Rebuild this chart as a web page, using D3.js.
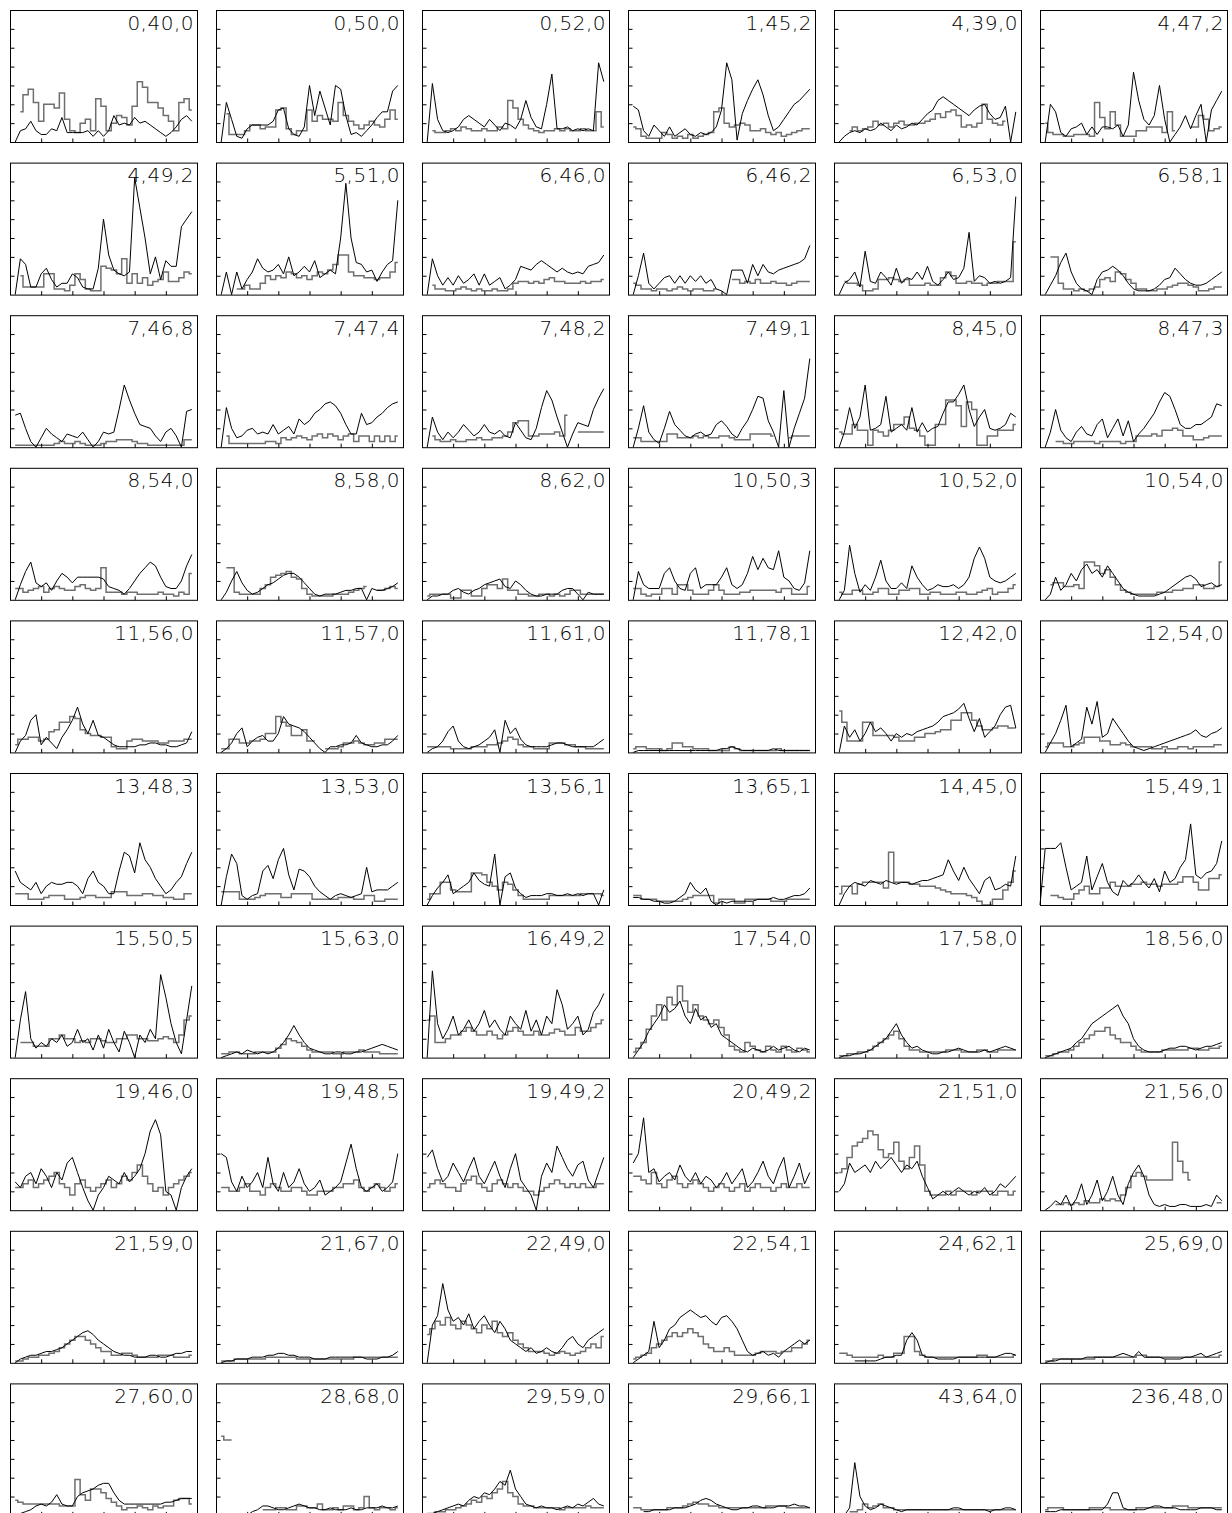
<!DOCTYPE html>
<html>
<head>
<meta charset="utf-8">
<script src="https://cdn.jsdelivr.net/npm/d3@7"></script>
<style>
body { margin: 0; background: #fff; }
</style>
</head>
<body>
<svg id="svg1" width="1232" height="1513"></svg>
<script>
// panel titles, row by row
var labels = [
    "0,40,0", "0,50,0", "0,52,0", "1,45,2", "4,39,0", "4,47,2",
    "4,49,2", "5,51,0", "6,46,0", "6,46,2", "6,53,0", "6,58,1",
    "7,46,8", "7,47,4", "7,48,2", "7,49,1", "8,45,0", "8,47,3",
    "8,54,0", "8,58,0", "8,62,0", "10,50,3", "10,52,0", "10,54,0",
    "11,56,0", "11,57,0", "11,61,0", "11,78,1", "12,42,0", "12,54,0",
    "13,48,3", "13,53,0", "13,56,1", "13,65,1", "14,45,0", "15,49,1",
    "15,50,5", "15,63,0", "16,49,2", "17,54,0", "17,58,0", "18,56,0",
    "19,46,0", "19,48,5", "19,49,2", "20,49,2", "21,51,0", "21,56,0",
    "21,59,0", "21,67,0", "22,49,0", "22,54,1", "24,62,1", "25,69,0",
    "27,60,0", "28,68,0", "29,59,0", "29,66,1", "43,64,0", "236,48,0"
];

var yTicks = [10, 20, 30, 40, 50, 60];
var xTicks = [6, 12, 18, 24, 30];

// black line series (one row of values per panel)
var lineVals = [
    [null,0,6,7,11,6,4,4,7,6,13,5,5,5,5,6,3,6,3,6,14,9,10,9,13,10,11,9,7,5,3,5,8,12,14,11],
    [null,0,21,12,3,2,7,9,9,9,9,11,17,18,7,4,3,8,30,14,27,18,9,30,28,14,4,5,3,6,9,13,16,16,27,30],
    [null,0,31,12,6,5,6,8,12,14,12,10,8,12,9,6,10,9,7,12,22,13,8,7,20,36,7,7,8,6,7,6,7,6,42,32],
    [null,19,17,6,3,9,6,3,8,3,5,7,4,3,5,4,5,8,17,42,33,1,15,22,28,33,25,14,6,8,12,16,20,22,25,28],
    [null,0,3,5,6,5,7,6,7,10,8,6,9,7,8,10,9,12,15,17,22,24,22,20,18,16,14,17,19,20,15,12,13,19,0,16],
    [null,0,20,16,5,3,7,8,10,4,8,4,8,8,7,9,3,9,37,22,12,9,14,30,12,0,4,8,14,7,14,20,0,17,22,27],
    [null,0,19,16,4,4,11,14,8,4,6,6,11,9,4,3,3,14,40,21,13,11,10,12,62,46,30,11,20,8,18,15,15,36,40,44],
    [null,0,12,0,12,3,8,12,19,14,12,13,16,11,20,10,12,15,12,18,9,11,13,11,30,59,30,17,16,12,13,7,12,16,18,50],
    [null,0,19,10,5,9,5,10,6,8,11,5,11,5,7,9,3,5,8,15,14,13,16,18,16,14,12,14,12,11,12,11,15,16,17,21],
    [null,0,10,22,6,3,6,9,10,6,10,6,10,7,10,6,8,3,2,0,13,13,13,6,16,10,16,12,11,13,14,15,16,17,19,26],
    [null,0,6,8,12,4,23,7,6,12,9,5,14,6,9,8,12,8,15,7,5,8,12,8,9,14,33,7,10,9,6,7,6,7,9,52],
    [null,0,5,10,17,22,12,6,3,2,0,8,12,13,15,13,10,6,3,2,2,2,3,5,8,9,14,11,8,6,5,5,6,8,10,12],
    [null,17,18,10,3,0,5,10,7,5,3,7,6,5,8,4,0,3,8,7,8,20,33,25,18,12,11,10,6,3,8,10,6,0,19,20],
    [null,0,21,10,5,6,9,10,7,8,7,12,7,9,11,7,15,12,14,18,20,23,24,22,18,12,7,7,18,12,13,16,18,21,23,24],
    [null,0,16,8,4,8,5,8,12,9,6,8,12,8,7,9,6,5,13,9,5,4,10,21,30,25,16,8,0,7,13,12,11,20,26,31],
    [null,0,10,22,8,4,2,10,19,12,9,6,5,7,8,6,7,12,14,11,7,5,10,14,20,27,26,14,8,0,30,0,10,18,26,47],
    [null,0,8,21,10,16,33,9,10,12,27,8,10,12,9,21,8,13,8,10,11,18,24,24,28,33,20,11,16,20,10,9,10,12,18,16],
    [null,0,8,20,9,5,3,8,11,7,6,12,15,5,10,15,6,14,3,7,10,14,18,24,29,27,20,12,10,10,12,12,14,16,23,22],
    [null,0,8,15,20,9,7,9,5,10,14,12,9,12,12,12,12,12,11,7,6,5,3,6,10,14,17,20,18,12,7,6,6,10,18,24],
    [null,0,4,10,15,9,5,3,4,6,8,9,11,13,14,14,12,9,6,3,2,3,3,3,4,5,5,6,6,0,6,5,5,6,7,9],
    [null,0,2,2,3,3,5,6,4,3,5,6,8,9,10,11,7,6,10,8,5,3,2,2,3,3,3,5,6,6,3,0,4,3,3,3],
    [null,0,15,8,6,6,6,14,17,10,6,5,14,17,6,8,8,8,12,17,8,6,8,14,23,16,22,17,16,26,12,10,6,5,9,26],
    [null,0,5,29,14,4,8,5,12,21,10,6,6,9,6,18,12,8,5,6,8,7,7,8,6,8,12,22,28,22,12,10,9,10,12,14],
    [null,0,3,12,5,8,14,10,16,19,14,16,12,18,14,10,6,4,3,2,2,2,2,3,4,6,8,10,12,13,11,7,8,9,7,8],
    [null,0,6,9,17,20,4,8,5,2,8,12,17,24,15,10,17,9,8,6,4,3,3,3,3,4,4,5,5,4,4,3,3,4,5,11],
    [null,0,2,5,10,13,3,6,8,9,6,6,10,19,15,14,13,11,8,5,2,0,3,3,4,4,5,9,5,4,3,3,4,4,6,9],
    [null,0,2,3,6,11,14,6,3,2,3,4,6,8,12,0,17,10,13,7,4,3,3,3,3,4,5,5,4,3,3,3,3,3,5,7],
    [null,0,1,1,1,1,1,1,1,1,1,1,1,1,1,1,1,1,2,2,3,2,1,1,1,1,1,1,2,1,1,1,1,1,1,1],
    [null,0,14,8,12,6,10,16,11,13,10,6,10,8,10,9,11,12,13,14,16,19,20,21,23,26,18,11,18,8,11,14,20,24,25,13],
    [null,0,5,10,17,25,3,5,7,24,15,27,8,10,18,14,10,6,3,2,1,2,3,4,5,6,7,8,9,10,12,9,8,10,11,13],
    [null,18,12,10,8,12,6,10,12,11,11,12,12,10,6,14,18,12,10,6,6,18,28,26,17,33,24,20,14,10,6,8,12,15,22,28],
    [null,0,15,27,22,5,3,5,6,18,21,14,24,30,16,8,19,18,15,10,7,5,3,5,6,5,4,5,6,20,7,8,8,8,10,12],
    [null,0,5,9,12,16,6,8,10,12,17,13,11,10,27,0,15,17,9,6,4,5,5,5,6,6,5,5,6,5,6,5,6,6,0,8],
    [null,4,4,3,3,2,2,1,1,2,4,6,12,8,6,9,2,0,2,1,2,2,2,2,2,3,3,3,4,3,3,4,5,5,6,9],
    [null,0,6,10,12,11,10,13,12,11,13,12,11,12,12,11,12,13,13,14,15,16,24,18,13,20,14,10,6,13,15,8,9,11,10,26],
    [0,30,30,30,33,20,8,10,12,26,8,15,22,12,7,5,13,10,12,16,12,9,14,7,18,12,14,20,24,43,16,14,17,18,22,34],
    [null,0,20,35,10,5,8,6,10,8,12,6,8,15,8,10,4,12,5,15,8,3,14,8,0,12,8,15,10,44,32,18,8,2,20,38],
    [null,0,1,2,3,2,4,3,2,3,2,3,5,8,12,17,12,8,5,4,3,2,2,3,3,2,2,3,3,4,5,6,7,6,5,4],
    [null,0,46,18,10,15,22,12,15,20,14,18,25,16,20,15,12,22,18,15,25,14,20,12,22,18,36,28,15,18,22,12,15,24,28,34],
    [null,0,4,8,14,18,22,28,24,26,30,22,18,26,20,22,16,18,12,10,8,6,4,3,5,4,3,4,6,4,5,6,4,3,5,4],
    [null,0,1,1,2,2,3,4,6,8,10,14,18,12,8,5,6,4,3,2,2,3,3,4,5,4,3,3,3,4,3,4,5,6,5,4],
    [null,0,1,2,3,4,5,8,10,14,18,20,22,24,26,28,22,18,10,6,4,3,3,3,4,5,5,6,6,5,4,5,6,6,7,8],
    [null,15,12,18,20,14,22,18,12,20,16,25,28,20,12,5,0,8,12,18,16,14,20,15,18,22,30,42,48,40,10,8,0,12,18,22],
    [null,30,28,15,10,18,12,15,20,12,28,14,10,20,12,15,22,14,10,12,16,8,10,12,15,25,35,22,12,10,12,14,10,12,15,30],
    [null,28,32,22,15,18,25,20,15,22,28,18,14,20,26,18,12,22,30,16,12,8,0,18,25,20,34,28,22,18,24,26,16,12,20,28],
    [null,25,30,49,20,22,15,18,20,16,24,18,15,20,14,18,16,12,15,20,14,18,22,12,15,20,26,18,14,22,28,12,18,25,14,20],
    [null,10,14,25,20,22,24,20,26,22,25,28,24,20,24,22,26,18,12,6,8,10,8,10,12,10,8,10,9,12,8,10,14,12,15,18],
    [null,0,2,5,3,8,2,6,14,3,8,16,5,10,18,8,3,14,20,24,18,8,3,2,3,2,2,3,3,2,2,2,3,2,8,5],
    [null,0,2,3,4,4,5,6,6,7,8,10,12,14,16,17,15,12,10,8,6,5,4,4,3,3,3,4,4,3,3,4,5,5,6,6],
    [null,0,1,1,2,2,2,3,3,3,4,4,5,5,4,4,3,3,3,2,2,2,3,3,3,3,3,3,3,2,2,2,3,3,4,6],
    [null,0,20,25,42,28,22,24,20,26,18,22,25,20,16,22,18,12,10,8,6,8,5,6,8,6,5,8,12,14,10,8,12,14,16,18],
    [null,0,2,4,6,22,8,12,18,20,24,26,28,26,24,25,22,20,24,25,22,18,12,6,4,5,6,4,5,3,6,8,10,12,10,12],
    [null,null,null,null,1,1,1,1,1,2,3,3,4,4,12,16,12,4,3,3,2,2,2,2,3,3,3,3,3,3,3,3,4,5,5,4],
    [null,0,1,1,2,2,2,2,2,3,3,3,3,3,3,4,5,4,3,6,3,3,3,3,2,2,2,2,3,3,4,5,3,4,5,6],
    [null,0,1,2,3,5,6,5,7,11,6,5,5,10,12,13,14,16,17,17,12,8,6,6,6,6,6,6,6,6,7,7,8,9,9,9],
    [null,null,null,null,null,null,0,2,3,5,5,4,3,3,4,5,6,5,4,4,3,3,4,3,3,3,4,3,3,4,4,4,5,4,4,5],
    [null,0,1,2,3,4,5,6,5,8,10,9,12,11,14,18,16,24,14,10,6,5,4,5,4,4,3,4,5,4,6,5,7,9,6,5],
    [null,null,null,2,2,3,3,3,3,4,4,4,5,6,8,9,8,6,5,4,3,3,4,4,5,5,4,4,4,5,5,5,6,5,5,4],
    [null,null,0,4,28,10,5,3,4,6,5,4,3,2,3,3,3,3,3,3,3,3,3,4,4,3,3,3,3,3,2,3,3,4,4,3],
    [null,2,2,2,3,3,3,3,3,3,3,3,3,6,12,12,4,3,3,3,3,4,5,5,4,4,4,3,3,3,3,4,4,4,3,3]
];

// grey histogram series
var stepVals = [
    [null,null,16,25,28,21,11,20,20,18,26,12,6,5,10,12,6,23,19,6,10,14,13,9,19,32,29,21,21,18,14,11,6,21,23,17],
    [null,null,15,4,4,4,6,9,9,7,8,8,17,18,7,4,6,6,17,11,14,12,12,11,21,14,11,9,7,9,11,9,8,12,17,12],
    [null,null,6,5,5,6,7,6,8,7,6,6,7,6,6,8,7,22,18,12,9,7,6,5,6,6,7,6,7,6,6,7,6,6,16,8],
    [null,8,7,3,2,2,2,5,4,2,3,2,4,2,3,4,5,16,18,10,8,9,10,9,6,6,7,5,4,5,3,4,5,6,7,7],
    [null,null,null,6,8,6,7,8,11,9,10,8,10,11,9,9,10,10,11,12,15,13,16,17,14,8,9,8,10,20,12,10,9,11,null,null],
    [null,10,5,4,4,3,3,4,4,4,3,21,13,7,16,9,3,3,3,6,6,8,8,8,5,16,6,null,null,8,8,14,12,6,7,8],
    [null,null,10,4,4,4,4,11,11,3,3,2,5,11,8,3,2,2,15,14,13,11,19,6,11,6,9,5,7,8,12,7,7,9,12,11],
    [null,null,null,null,3,3,5,3,3,6,10,8,10,9,12,11,9,10,8,10,12,11,13,16,21,21,12,10,10,9,9,8,9,9,12,17],
    [null,null,5,3,3,2,2,3,4,3,2,3,2,2,3,2,2,3,6,7,7,6,7,6,8,9,7,7,6,6,6,7,6,7,7,8],
    [null,6,5,3,3,2,3,3,2,3,4,3,2,3,3,2,2,3,null,null,8,8,6,7,6,8,6,6,7,6,6,5,6,7,7,7],
    [null,null,7,6,6,5,2,2,3,8,8,9,8,7,8,5,5,5,6,5,5,9,12,10,6,6,7,6,6,5,6,6,7,7,7,28],
    [null,null,20,20,6,3,3,2,3,2,3,4,8,9,7,12,11,8,6,3,3,2,2,3,3,4,5,6,6,5,4,2,2,3,4,4],
    [null,1,1,1,1,1,1,1,1,2,3,2,2,3,2,1,1,1,2,3,3,4,4,4,3,2,2,1,1,1,1,1,1,1,4,4],
    [null,null,6,2,2,2,2,2,2,2,3,3,2,5,4,5,6,5,4,6,7,5,7,6,4,6,7,3,6,6,3,6,3,6,3,6],
    [null,null,6,4,3,3,4,3,3,4,4,5,4,4,5,5,6,8,13,14,14,6,6,7,7,7,8,6,17,null,8,8,8,8,8,8],
    [null,5,5,3,3,3,3,3,7,7,5,5,5,6,5,6,5,5,6,6,5,4,4,4,7,7,7,7,6,null,null,5,6,6,6,6],
    [null,8,7,7,12,9,9,1,9,8,6,9,12,12,16,10,9,6,1,1,12,12,25,25,22,11,24,20,1,1,6,6,9,9,9,12],
    [null,null,null,3,3,2,2,3,3,3,3,2,3,3,3,3,2,3,3,6,6,6,7,6,9,9,10,9,6,6,4,4,5,6,6,6],
    [null,6,6,4,5,6,7,4,6,7,6,5,5,7,8,6,5,6,17,4,4,4,3,4,4,3,3,3,3,4,3,3,2,4,3,14],
    [null,null,17,17,4,3,3,3,3,6,8,12,13,14,15,12,11,6,3,2,2,2,2,3,3,3,4,5,6,7,null,5,5,6,7,6],
    [null,2,3,3,3,3,1,1,5,5,2,2,6,8,8,6,11,5,5,3,3,2,2,3,3,2,3,2,3,5,5,3,3,3,3,3],
    [null,6,6,3,2,3,3,6,6,3,8,8,5,3,3,3,5,8,5,3,3,3,4,4,5,5,5,5,5,4,6,6,3,3,3,7],
    [null,4,3,3,5,5,3,3,4,6,6,3,3,5,5,6,6,3,3,4,4,3,3,3,4,4,3,3,4,5,6,3,4,4,6,8],
    [null,null,8,9,9,7,7,8,6,20,20,18,14,16,12,8,5,4,3,3,3,3,3,4,4,4,5,5,6,6,8,8,6,6,7,20],
    [null,4,7,7,8,8,6,7,11,12,16,16,19,18,12,10,9,9,8,8,3,2,2,6,7,7,6,6,6,5,5,6,6,6,7,7],
    [null,2,2,7,7,5,5,6,6,7,10,10,19,16,14,9,9,12,6,6,null,2,2,2,3,5,5,6,5,4,4,5,5,7,7,7],
    [null,3,3,3,3,3,2,2,2,2,3,3,3,4,4,5,6,8,7,4,3,3,2,2,2,5,5,5,4,4,3,3,2,2,2,2],
    [null,2,3,3,2,2,2,1,2,5,5,3,3,2,2,2,1,1,1,1,3,2,1,1,1,1,1,1,1,2,1,1,1,1,1,1],
    [null,22,16,6,6,6,16,16,9,9,9,9,8,6,6,6,8,8,10,10,11,12,12,17,17,21,21,17,14,12,12,13,14,14,13,13],
    [null,3,5,5,5,3,3,4,5,8,8,8,6,6,4,4,5,4,3,3,3,3,2,2,3,2,2,3,3,2,3,3,3,3,4,4],
    [null,6,6,6,3,3,3,4,5,5,5,3,3,3,4,5,5,4,4,4,7,7,7,5,5,5,6,6,5,5,4,4,3,3,6,6],
    [null,7,7,7,7,3,3,3,4,5,6,6,6,4,4,6,6,6,6,3,3,3,3,3,4,4,4,3,3,5,5,2,2,3,3,3],
    [null,3,6,6,12,12,8,7,7,7,17,17,16,12,10,8,12,11,8,5,3,3,3,3,3,5,5,5,5,5,5,6,6,6,6,5],
    [null,5,5,3,3,3,2,2,2,2,2,3,4,5,5,5,5,1,3,3,3,1,1,3,3,3,3,3,2,2,2,3,3,3,3,3],
    [null,6,10,10,6,11,12,12,12,12,9,28,12,12,12,11,11,10,10,10,9,8,7,6,6,6,5,4,2,0,0,3,3,8,12,18],
    [null,null,5,5,4,3,3,6,8,10,6,6,9,9,12,10,10,10,11,11,12,11,11,10,11,11,11,12,15,15,12,8,8,14,14,16],
    [null,null,8,8,8,6,6,6,10,10,12,10,10,8,9,8,10,10,9,8,8,10,10,12,12,10,10,9,9,10,11,10,8,12,20,22],
    [null,2,2,3,3,2,2,2,3,3,3,3,5,7,10,9,8,6,4,3,3,3,3,2,2,3,3,3,4,3,3,3,2,2,2,2],
    [null,20,22,8,8,10,12,12,14,16,14,12,12,14,12,10,12,14,16,14,12,12,14,12,12,13,15,14,12,12,16,14,14,16,18,20],
    [null,3,5,8,15,22,28,20,32,28,38,30,24,28,22,20,18,20,16,12,6,4,3,8,6,4,3,6,4,3,6,4,3,5,4,3],
    [null,1,1,2,2,3,3,4,6,8,10,12,14,10,6,4,4,3,3,3,3,3,4,4,4,3,3,3,4,4,3,3,4,4,4,4],
    [null,1,1,2,3,3,4,6,8,10,12,14,14,16,12,10,8,8,6,4,3,3,3,3,4,4,4,4,4,5,5,4,4,5,5,6],
    [null,12,12,14,16,12,14,16,18,20,14,12,8,14,16,12,10,12,14,16,12,14,18,16,20,24,18,14,10,12,8,12,14,16,18,20],
    [null,12,12,10,10,12,14,10,10,8,12,14,12,10,10,12,12,10,8,8,10,10,10,12,12,14,14,16,12,10,12,14,12,10,12,14],
    [null,12,14,16,14,12,12,10,14,16,18,14,12,10,14,16,14,12,14,12,10,10,8,10,12,14,16,14,12,14,12,14,12,12,14,14],
    [null,18,18,16,14,20,14,12,16,18,14,12,14,16,14,12,10,12,14,12,10,12,14,10,12,14,12,12,10,12,14,12,12,14,12,12],
    [null,20,22,28,34,36,38,42,40,32,28,30,36,26,22,28,34,24,10,8,8,8,10,8,10,10,10,8,10,10,10,8,10,10,8,10],
    [null,null,null,3,3,4,3,4,3,5,4,4,6,5,6,5,8,12,18,20,18,16,16,16,16,16,36,26,20,16,null,null,null,null,4,4],
    [null,1,1,2,3,3,4,4,5,6,8,10,12,14,14,12,10,8,6,6,4,4,5,5,4,3,3,3,3,4,4,4,3,3,3,4],
    [null,1,1,1,2,2,2,2,2,2,3,3,3,3,3,3,2,2,2,2,2,2,2,2,2,2,2,3,3,3,3,3,3,3,3,3],
    [null,15,18,22,20,24,20,18,22,20,18,16,20,18,22,16,14,16,12,10,8,6,6,6,5,4,5,6,5,4,5,6,8,10,8,14],
    [null,2,3,4,5,8,10,12,14,16,14,16,18,16,14,10,8,6,6,8,6,4,4,4,4,5,6,6,6,5,6,6,8,8,10,12],
    [null,5,5,4,3,3,3,3,3,4,3,3,5,5,14,14,6,4,3,3,3,3,3,3,3,3,3,3,4,4,3,3,3,3,3,4],
    [null,1,1,2,2,2,2,2,2,2,2,3,3,3,3,3,3,3,3,4,4,3,3,3,3,3,3,3,3,3,3,3,3,3,3,4],
    [null,8,7,6,6,6,6,6,6,6,5,5,5,19,11,8,14,14,12,9,7,5,3,4,4,5,4,3,5,4,5,5,8,9,9,6],
    [null,42,40,40,null,null,null,null,null,3,3,3,4,4,3,3,5,5,4,4,6,3,3,4,3,5,5,3,4,10,4,3,4,4,3,4],
    [null,1,1,2,2,3,3,4,5,6,8,7,10,9,12,14,18,12,10,6,5,5,4,4,4,4,4,3,4,4,4,4,5,4,4,4],
    [null,4,4,3,3,3,3,3,4,4,4,5,6,7,6,6,5,5,4,4,4,4,4,4,4,4,4,5,5,5,5,4,4,4,4,4],
    [null,null,null,2,2,3,6,4,5,6,4,4,3,3,3,3,3,3,3,3,3,3,3,3,3,3,3,3,3,3,3,3,3,3,3,3],
    [null,3,4,4,4,3,3,3,3,3,4,4,4,4,3,3,3,3,3,4,4,4,4,4,4,4,5,5,5,4,4,4,4,4,4,4]
];

var svg = d3.select("#svg1");

var pw = 187, ph = 132;
var colStep = 206, rowStep = 152.6;
var left0 = 10, top0 = 10;

var x = d3.scaleLinear().domain([0, 36]).range([0, pw]);
var y = d3.scaleLinear().domain([0, 70]).range([ph, 0]);

var lineGen = d3.line()
    .defined(function (d) { return d != null; })
    .x(function (d, i) { return x(i); })
    .y(function (d) { return y(d); });

var stepGen = d3.line()
    .defined(function (d) { return d != null; })
    .curve(d3.curveStep)
    .x(function (d, i) { return x(i); })
    .y(function (d) { return y(d); });

labels.forEach(function (lab, k) {
    var col = k % 6, row = Math.floor(k / 6);
    var g = svg.append("g")
        .attr("transform", "translate(" + (left0 + col * colStep) + "," + (top0 + row * rowStep) + ")");

    g.append("path")
        .attr("d", stepGen(stepVals[k]))
        .attr("fill", "none")
        .attr("stroke", "#6f6f6f")
        .attr("stroke-width", 1.5);

    g.append("path")
        .attr("d", lineGen(lineVals[k]))
        .attr("fill", "none")
        .attr("stroke", "#000")
        .attr("stroke-width", 1);

    // inward ticks
    var ya = g.append("g")
        .attr("transform", "translate(0.5,0)")
        .call(d3.axisLeft(y).tickValues(yTicks).tickSize(-4).tickFormat(""));
    var xa = g.append("g")
        .attr("transform", "translate(0," + (ph + 0.5) + ")")
        .call(d3.axisBottom(x).tickValues(xTicks).tickSize(-4).tickFormat(""));
    ya.select(".domain").remove();
    xa.select(".domain").remove();

    g.append("rect")
        .attr("x", 0.5)
        .attr("y", 0.5)
        .attr("width", pw)
        .attr("height", ph)
        .attr("fill", "none")
        .attr("stroke", "#000")
        .attr("stroke-width", 1);

    g.append("text")
        .attr("x", pw - 3)
        .attr("y", 19.5)
        .attr("text-anchor", "end")
        .attr("font-family", "DejaVu Sans")
        .attr("font-weight", 200)
        .attr("font-size", 20)
        .attr("letter-spacing", 0.5)
        .attr("fill", "#000")
        .text(lab);
});
</script>
</body>
</html>
